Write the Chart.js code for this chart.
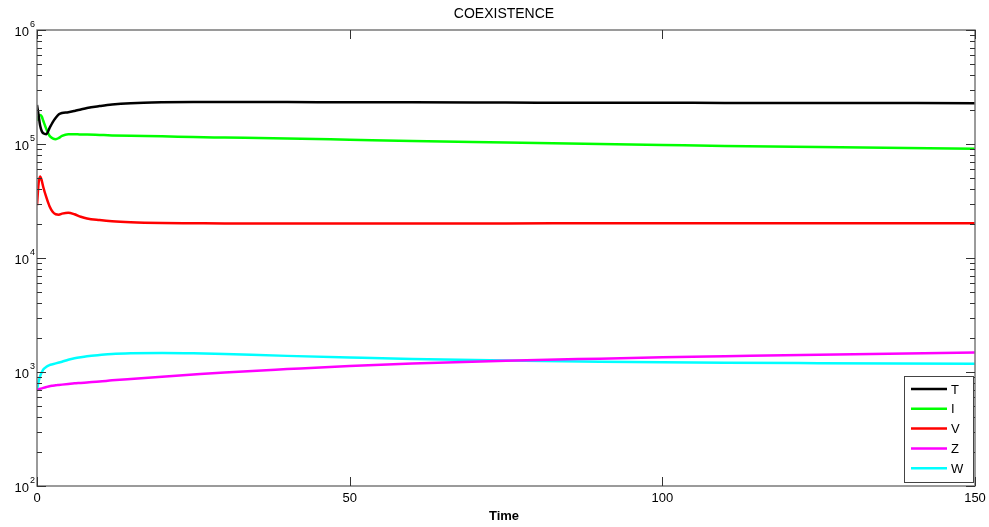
<!DOCTYPE html>
<html>
<head>
<meta charset="utf-8">
<script src="https://cdn.jsdelivr.net/npm/chart.js@4/dist/chart.umd.min.js"></script>
<style>
  html, body { margin: 0; padding: 0; background: #fff; }
  #wrap { width: 989px; height: 527px; }
</style>
</head>
<body>
<div id="wrap"><canvas id="coexChart" width="989" height="527"></canvas></div>
<script>
// time points (denser at the start where things move fast)
const timePts = [0, 0.25, 0.5, 0.75, 1, 1.5, 2, 2.5, 3, 3.5, 4, 5, 6, 7, 8, 10, 12, 15, 20, 25, 30, 40, 50, 60, 75, 90, 100, 110, 125, 150];

const seriesT = [2.2e5, 1.8e5, 1.45e5, 1.3e5, 1.24e5, 1.22e5, 1.38e5, 1.55e5, 1.7e5, 1.82e5, 1.87e5, 1.9e5, 1.95e5, 2.01e5, 2.07e5, 2.15e5, 2.22e5, 2.28e5, 2.32e5, 2.33e5, 2.33e5, 2.33e5, 2.32e5, 2.32e5, 2.31e5, 2.3e5, 2.3e5, 2.29e5, 2.29e5, 2.28e5];
const seriesI = [1.6e5, 1.75e5, 1.8e5, 1.75e5, 1.6e5, 1.35e5, 1.18e5, 1.12e5, 1.1e5, 1.13e5, 1.18e5, 1.22e5, 1.22e5, 1.21e5, 1.21e5, 1.2e5, 1.19e5, 1.18e5, 1.17e5, 1.15e5, 1.14e5, 1.12e5, 1.09e5, 1.06e5, 1.03e5, 1.0e5, 9.8e4, 9.6e4, 9.4e4, 9.1e4];
const seriesV = [2.9e4, 4.5e4, 5.2e4, 4.8e4, 4.2e4, 3.4e4, 2.85e4, 2.55e4, 2.42e4, 2.4e4, 2.45e4, 2.5e4, 2.42e4, 2.3e4, 2.22e4, 2.15e4, 2.1e4, 2.06e4, 2.03e4, 2.02e4, 2.01e4, 2.01e4, 2.01e4, 2.01e4, 2.01e4, 2.02e4, 2.02e4, 2.02e4, 2.02e4, 2.02e4];
const seriesZ = [690, 705, 712, 718, 725, 738, 750, 758, 765, 770, 775, 785, 795, 802, 810, 825, 845, 870, 910, 950, 990, 1060, 1130, 1185, 1255, 1310, 1345, 1375, 1420, 1480];
const seriesW = [700, 820, 920, 990, 1050, 1110, 1150, 1170, 1190, 1210, 1230, 1280, 1320, 1350, 1375, 1410, 1440, 1460, 1470, 1460, 1435, 1385, 1340, 1300, 1260, 1230, 1215, 1205, 1195, 1180];

const seriesNames = ['T', 'I', 'V', 'Z', 'W'];
const seriesColors = ['#000000', '#00ff00', '#ff0000', '#ff00ff', '#00ffff'];
const allSeries = [seriesT, seriesI, seriesV, seriesZ, seriesW];

const xTicks = [0, 50, 100, 150];
const yDecades = [2, 3, 4, 5, 6];

function toPoints(values) {
    return timePts.map(function(t, i) { return { x: t, y: values[i] }; });
}

// draws the matlab-like box, inner ticks, labels and legend
const axesPlugin = {
    id: 'matlabAxes',
    afterDraw: function(chart) {
        const ctx = chart.ctx;
        const area = chart.chartArea;
        const xs = chart.scales.x;
        const ys = chart.scales.y;
        ctx.save();

        // box
        ctx.strokeStyle = '#7a7a7a';
        ctx.lineWidth = 1.5;
        ctx.strokeRect(area.left, area.top, area.right - area.left, area.bottom - area.top);

        ctx.strokeStyle = '#333';
        ctx.lineWidth = 1;
        ctx.beginPath();
        // x ticks
        xTicks.forEach(function(v) {
            const px = Math.round(xs.getPixelForValue(v)) + 0.5;
            ctx.moveTo(px, area.bottom); ctx.lineTo(px, area.bottom - 9);
            ctx.moveTo(px, area.top); ctx.lineTo(px, area.top + 9);
        });
        // y ticks (major + minor)
        for (let d = 2; d <= 6; d++) {
            for (let m = 1; m <= 9; m++) {
                const val = m * Math.pow(10, d);
                if (val > 1e6) break;
                const py = Math.round(ys.getPixelForValue(val)) + 0.5;
                const len = m === 1 ? 9 : 5;
                ctx.moveTo(area.left, py); ctx.lineTo(area.left + len, py);
                ctx.moveTo(area.right, py); ctx.lineTo(area.right - len, py);
            }
        }
        ctx.stroke();

        ctx.fillStyle = '#000';
        // y labels 10^k
        yDecades.forEach(function(d) {
            const py = ys.getPixelForValue(Math.pow(10, d));
            ctx.font = '13px Arial, "Liberation Sans", sans-serif';
            ctx.textAlign = 'right';
            ctx.textBaseline = 'middle';
            ctx.fillText('10', 29, py + 2);
            ctx.font = '9px Arial, "Liberation Sans", sans-serif';
            ctx.textAlign = 'left';
            ctx.fillText(String(d), 30, py - 5);
        });

        // x labels
        ctx.font = '13px Arial, "Liberation Sans", sans-serif';
        ctx.textAlign = 'center';
        ctx.textBaseline = 'middle';
        xTicks.forEach(function(v) {
            ctx.fillText(String(v), xs.getPixelForValue(v), area.bottom + 12);
        });

        const midX = (area.left + area.right) / 2;
        ctx.font = 'bold 13px Arial, "Liberation Sans", sans-serif';
        ctx.fillText('Time', midX - 2, area.bottom + 30);

        ctx.font = '14px Arial, "Liberation Sans", sans-serif';
        ctx.fillText('COEXISTENCE', midX - 2, 14);

        // legend
        const lx = 904, ly = 376, lw = 69, lh = 106;
        ctx.fillStyle = '#fff';
        ctx.fillRect(lx, ly, lw, lh);
        ctx.strokeStyle = '#444';
        ctx.lineWidth = 1;
        ctx.strokeRect(lx + 0.5, ly + 0.5, lw, lh);
        chart.data.datasets.forEach(function(ds, i) {
            const ry = ly + 13 + i * 19.8;
            ctx.strokeStyle = ds.borderColor;
            ctx.lineWidth = 2.5;
            ctx.beginPath();
            ctx.moveTo(lx + 7, ry); ctx.lineTo(lx + 43, ry);
            ctx.stroke();
            ctx.fillStyle = '#000';
            ctx.font = '13px Arial, "Liberation Sans", sans-serif';
            ctx.textAlign = 'left';
            ctx.textBaseline = 'middle';
            ctx.fillText(ds.label, lx + 47, ry + 1);
        });

        ctx.restore();
    }
};

const ctx = document.getElementById('coexChart').getContext('2d');
const coexChart = new Chart(ctx, {
    type: 'line',
    data: {
        datasets: allSeries.map(function(vals, i) {
            return {
                label: seriesNames[i],
                data: toPoints(vals),
                borderColor: seriesColors[i],
                borderWidth: 2.5,
                pointRadius: 0,
                fill: false,
                cubicInterpolationMode: 'monotone'
            };
        })
    },
    options: {
        responsive: false,
        animation: false,
        layout: { padding: { left: 37, top: 30, right: 14, bottom: 41 } },
        plugins: {
            legend: { display: false },
            title: { display: false },
            tooltip: { enabled: false }
        },
        scales: {
            x: { type: 'linear', min: 0, max: 150, display: false },
            y: { type: 'logarithmic', min: 100, max: 1e6, display: false }
        }
    },
    plugins: [axesPlugin]
});
</script>
</body>
</html>
